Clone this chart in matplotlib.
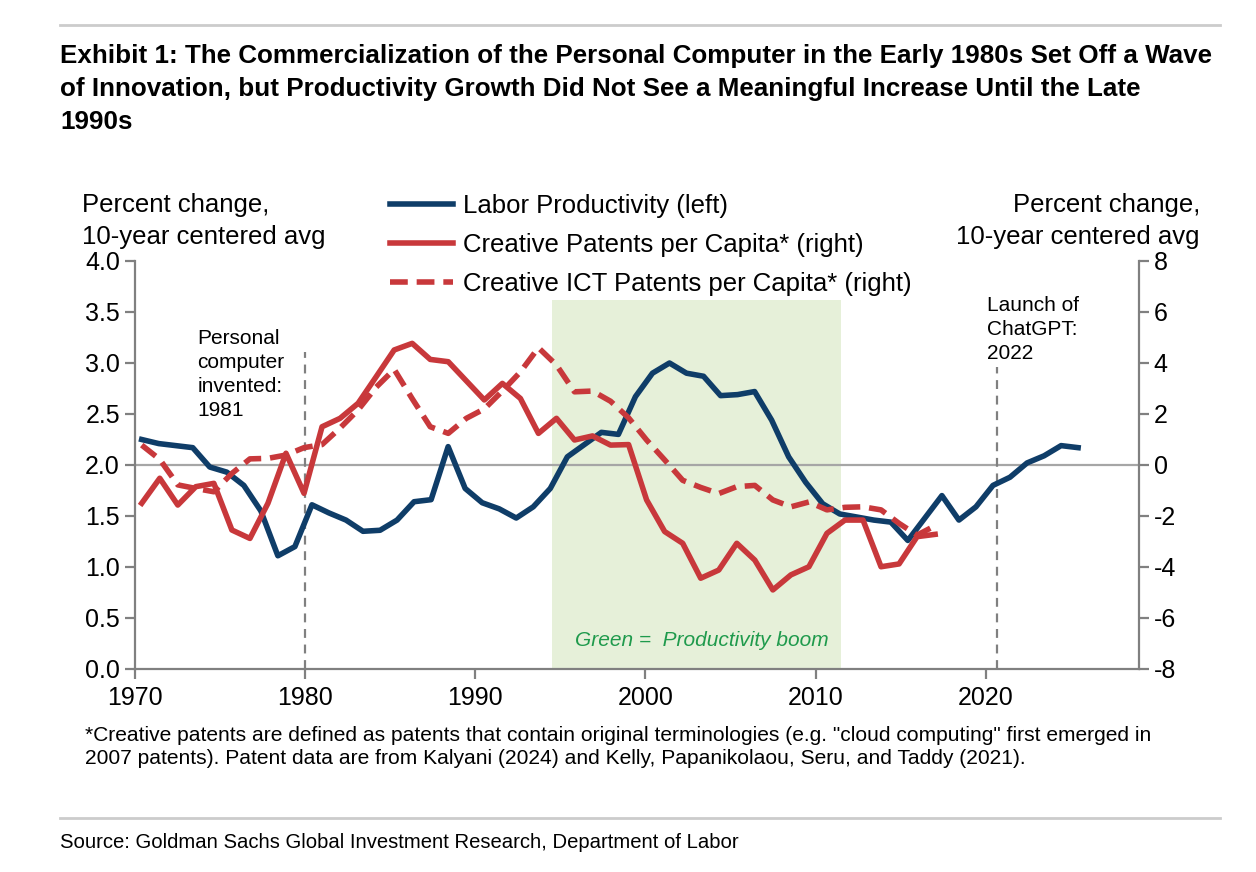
import matplotlib
matplotlib.use('Agg')
import matplotlib.pyplot as plt
from matplotlib import font_manager
from matplotlib.lines import Line2D
import numpy as np

installed = {f.name for f in font_manager.fontManager.ttflist}
NARROW = 'Liberation Sans Narrow' if 'Liberation Sans Narrow' in installed else 'Liberation Sans'
plt.rcParams['font.family'] = ['Liberation Sans', 'DejaVu Sans']
plt.rcParams['axes.unicode_minus'] = False

BLUE = '#0f3d68'
RED = '#c8383b'
GREY = '#808080'
SHADE = '#e6f0d9'
GREEN_TXT = '#1f9a4c'

# labor productivity, % change 10-year centered avg (left axis)
prod_years = np.arange(1970, 2026)
productivity = [2.25, 2.21, 2.19, 2.17, 1.98, 1.93, 1.80, 1.55, 1.11, 1.20,
                1.61, 1.53, 1.46, 1.35, 1.36, 1.46, 1.64, 1.66, 2.18, 1.77,
                1.63, 1.57, 1.48, 1.59, 1.77, 2.08, 2.20, 2.32, 2.30, 2.67,
                2.90, 3.00, 2.90, 2.87, 2.68, 2.69, 2.72, 2.44, 2.08, 1.83,
                1.62, 1.52, 1.49, 1.46, 1.44, 1.26, 1.48, 1.70, 1.46, 1.59,
                1.80, 1.88, 2.02, 2.09, 2.19, 2.17]

# creative patents per capita (right axis, own x scale)
patent_years = np.arange(1970, 2015)
patents = [-1.50, -0.52, -1.57, -0.85, -0.72, -2.55, -2.88, -1.50, 0.46, -1.11,
           1.50, 1.83, 2.42, 3.46, 4.51, 4.77, 4.14, 4.05, 3.30, 2.55,
           3.20, 2.61, 1.24, 1.83, 0.98, 1.14, 0.78, 0.80, -1.37, -2.61,
           -3.07, -4.44, -4.12, -3.07, -3.73, -4.90, -4.31, -3.99, -2.68, -2.16,
           -2.16, -3.99, -3.88, -2.81, -2.72]
ict_patents = [0.78, 0.22, -0.78, -0.92, -1.05, -0.33, 0.24, 0.26, 0.39, 0.68,
               0.80, 1.45, 2.16, 3.05, 3.75, 2.60, 1.50, 1.24, 1.83, 2.20,
               2.90, 3.65, 4.60, 3.92, 2.87, 2.90, 2.50, 1.85, 0.98, 0.20,
               -0.60, -0.88, -1.12, -0.85, -0.80, -1.37, -1.64, -1.45, -1.76, -1.66,
               -1.64, -1.76, -2.29, -2.75, -2.38]

boom = (1994.5, 2011.5)
events = [(1980.0, 3.11, 'Personal\ncomputer\ninvented:\n1981', 1973.7, 3.33),
          (2020.63, 2.96, 'Launch of\nChatGPT:\n2022', 2020.05, 3.66)]

fig = plt.figure(figsize=(12.56, 8.72), dpi=100)
pos = [0.1071, 0.2328, 0.7998, 0.4679]
ax = fig.add_axes(pos)
axr = fig.add_axes(pos, facecolor='none')

# left axis: productivity
ax.axvspan(*boom, ymin=0, ymax=0.904, color=SHADE, lw=0, zorder=0)
ax.axhline(2.0, color='#a6a6a6', lw=1.6, zorder=1)
for x, ytop, txt, tx, ty in events:
    ax.plot([x, x], [0, ytop], color=GREY, lw=1.6, ls=(0, (4, 3)), zorder=1)
    ax.text(tx, ty, txt, fontsize=15, va='top', ha='left', linespacing=1.33)
ax.plot(prod_years + 0.42, productivity, color=BLUE, lw=4, solid_joinstyle='round', zorder=3)
ax.text(2003.3, 0.28, 'Green =  Productivity boom', color=GREEN_TXT, fontsize=15,
        style='italic', ha='center', va='center')

ax.set_xlim(1970, 2029)
ax.set_ylim(0, 4)
ax.set_xticks(range(1970, 2030, 10))
ax.set_yticks(np.arange(0, 4.01, 0.5))
ax.yaxis.set_major_formatter(plt.FuncFormatter(lambda v, _: f'{v:.1f}'))
for s in ['top', 'right']:
    ax.spines[s].set_visible(False)
for s in ['left', 'bottom']:
    ax.spines[s].set_color(GREY)
    ax.spines[s].set_linewidth(1.6)
ax.tick_params(axis='both', colors=GREY, labelcolor='black', labelsize=18,
               length=7, width=1.6, direction='out')
ax.tick_params(axis='x', pad=5)

# right axis: patents, on its own x scale
axr.plot(patent_years, patents, color=RED, lw=4, solid_joinstyle='round', zorder=3)
axr.plot(patent_years, ict_patents, color=RED, lw=4, dashes=(3.2, 1.6), zorder=3)
axr.set_xlim(1969.6, 2025.31)
axr.set_ylim(-8, 8)
axr.set_yticks(range(-8, 9, 2))
axr.xaxis.set_visible(False)
axr.yaxis.tick_right()
for s in ['top', 'left', 'bottom']:
    axr.spines[s].set_visible(False)
axr.spines['right'].set_color(GREY)
axr.spines['right'].set_linewidth(1.6)
axr.tick_params(axis='y', colors=GREY, labelcolor='black', labelsize=18,
                length=7, width=1.6, direction='out')

# axis titles
fig.text(0.0653, 0.779, 'Percent change,\n10-year centered avg', fontsize=18.5,
         ha='left', va='top', linespacing=1.42)
fig.text(0.9554, 0.779, 'Percent change,\n10-year centered avg', fontsize=18.5,
         ha='right', va='top', linespacing=1.42, multialignment='right')

handles = [Line2D([], [], color=BLUE, lw=4),
           Line2D([], [], color=RED, lw=4),
           Line2D([], [], color=RED, lw=4, dashes=(3.2, 1.6))]
labels = ['Labor Productivity (left)', 'Creative Patents per Capita* (right)',
          'Creative ICT Patents per Capita* (right)']
fig.legend(handles, labels, loc='upper left', bbox_to_anchor=(0.3105, 0.777),
           frameon=False, fontsize=18.5, handlelength=2.45, handletextpad=0.4,
           labelspacing=0.58, borderpad=0, borderaxespad=0)

# header / footer
fig.add_artist(Line2D([0.0478, 0.971], [0.9713, 0.9713], color='#cccccc', lw=2))
fig.text(0.0478, 0.950, 'Exhibit 1: The Commercialization of the Personal Computer in the Early 1980s Set Off a Wave\n'
         'of Innovation, but Productivity Growth Did Not See a Meaningful Increase Until the Late\n1990s',
         fontsize=18.7, fontweight='bold', family=NARROW, ha='left', va='top', linespacing=1.48)
fig.text(0.0677, 0.167, '*Creative patents are defined as patents that contain original terminologies (e.g. "cloud computing" first emerged in\n'
         '2007 patents). Patent data are from Kalyani (2024) and Kelly, Papanikolaou, Seru, and Taddy (2021).',
         fontsize=15.1, ha='left', va='top', linespacing=1.25)
fig.add_artist(Line2D([0.0478, 0.971], [0.0619, 0.0619], color='#cccccc', lw=2))
fig.text(0.0478, 0.0344, 'Source: Goldman Sachs Global Investment Research, Department of Labor',
         fontsize=14.6, family=NARROW, ha='left', va='center')

fig.savefig('out.png', dpi=100)
